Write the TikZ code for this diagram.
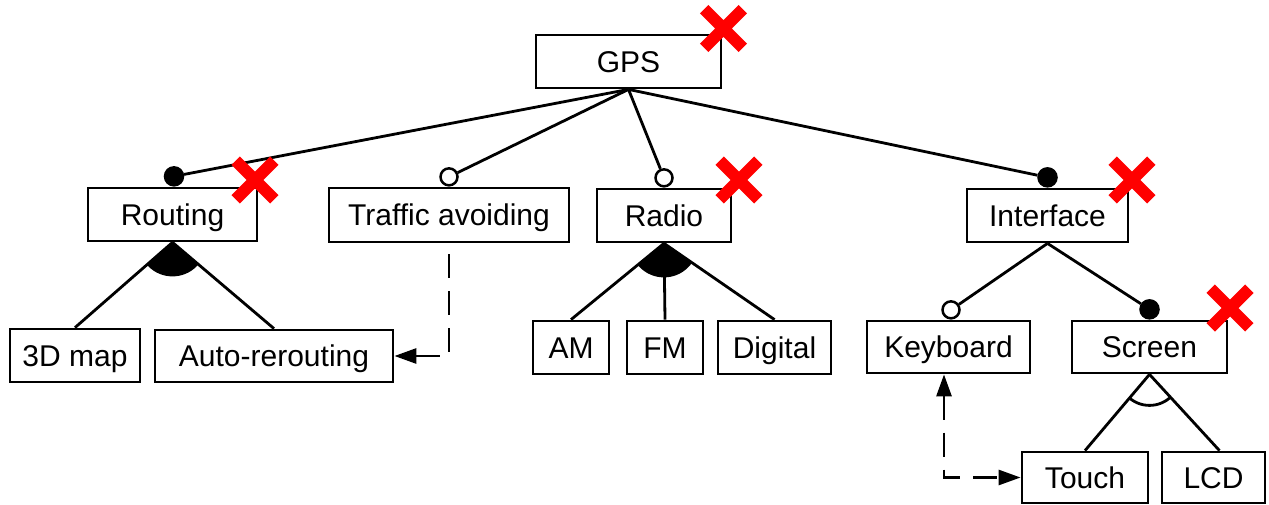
\documentclass[tikz,border=0pt]{standalone}
\usepackage{fontspec}
\setmainfont{Liberation Sans}
\usetikzlibrary{arrows.meta,calc}
\tikzset{
  box/.style={draw, line width=2.8pt, inner sep=0pt, text height=21.5pt, text depth=0pt, font=\fontsize{30}{36}\selectfont},
  conn/.style={line width=2.8pt},
  fcirc/.style={circle, draw, fill=black, line width=2.5pt, minimum size=18pt, inner sep=0pt, anchor=south},
  ocirc/.style={circle, draw, fill=white, line width=2.5pt, minimum size=17pt, inner sep=0pt, anchor=south},
  dep/.style={line width=2.8pt, dash pattern=on 24pt off 13pt},
  tip/.tip={Triangle[length=22pt,width=15pt]},
  redx/.pic={\draw[red, line width=12pt] (-19.3,-19.3) -- (19.3,19.3) (-19.3,19.3) -- (19.3,-19.3);}
}
\begin{document}
\begin{tikzpicture}[x=1pt,y=-1pt]
\useasboundingbox (0,0) rectangle (1269,505);
% boxes
\node[box, minimum width=185pt, minimum height=53pt] (gps) at (628.5,61.5) {GPS};
\node[box, minimum width=169pt, minimum height=53pt] (routing) at (172.5,214.5) {Routing};
\node[box, minimum width=240pt, minimum height=54pt] (traffic) at (449,215) {Traffic avoiding};
\node[box, minimum width=134pt, minimum height=53pt] (radio) at (664,215.5) {Radio};
\node[box, minimum width=161pt, minimum height=53pt] (interface) at (1047.5,215.5) {Interface};
\node[box, minimum width=130pt, minimum height=53pt] (map) at (75,355.5) {3D map};
\node[box, minimum width=238pt, minimum height=52pt] (auto) at (274,356) {Auto-rerouting};
\node[box, minimum width=76pt, minimum height=53pt] (am) at (571,347.5) {AM};
\node[box, minimum width=76pt, minimum height=53pt] (fm) at (665,347.5) {FM};
\node[box, minimum width=113pt, minimum height=53pt] (digital) at (774.5,347.5) {Digital};
\node[box, minimum width=163pt, minimum height=52pt] (keyboard) at (948.5,347) {Keyboard};
\node[box, minimum width=155pt, minimum height=52pt] (screen) at (1149.5,347) {Screen};
\node[box, minimum width=126pt, minimum height=51pt] (touch) at (1085,477.5) {Touch};
\node[box, minimum width=103pt, minimum height=51pt] (lcd) at (1213.5,477.5) {LCD};
% circles
\node[fcirc] (rc) at ($(routing.north)+(1.5,0)$) {};
\node[ocirc] (tc) at (traffic.north) {};
\node[ocirc] (rdc) at (radio.north) {};
\node[fcirc] (ic) at (interface.north) {};
\node[ocirc] (kc) at ($(keyboard.north)+(2.5,0)$) {};
\node[fcirc] (sc) at (screen.north) {};
% connectors from GPS
\draw[conn] (gps.south) -- (rc);
\draw[conn] (gps.south) -- (tc);
\draw[conn] (gps.south) -- (rdc);
\draw[conn] (gps.south) -- (ic);
\draw[conn] (interface.south) -- (kc);
\draw[conn] (interface.south) -- (sc);
% routing and-group
\coordinate (lcdtop) at ($(lcd.north)+(6,0)$);
\begin{scope}
\clip (routing.south) -- (map.north) -- (auto.north) -- cycle;
\fill (routing.south) circle (34pt);
\end{scope}
\draw[conn] (routing.south) -- (map.north);
\draw[conn] (routing.south) -- (auto.north);
% radio group
\begin{scope}
\clip (radio.south) -- (am.north) -- (digital.north) -- cycle;
\fill (radio.south) circle (34pt);
\end{scope}
\draw[conn] (radio.south) -- (am.north);
\draw[conn] (radio.south) -- (fm.north);
\draw[conn] (radio.south) -- (digital.north);
% screen group
\begin{scope}
\clip (screen.south) -- (touch.north) -- (lcdtop) -- cycle;
\draw[line width=2.8pt] (screen.south) circle (31pt);
\end{scope}
\draw[conn] (screen.south) -- (touch.north);
\draw[conn] (screen.south) -- (lcdtop);
% dependencies
\coordinate (tstart) at ($(traffic.south)+(0,11)$);
\draw[dep, -tip] (tstart) |- (auto.east);
\coordinate (kstart) at ($(keyboard.south)+(-4.5,0)$);
\draw[dep, tip-tip] (kstart) |- (touch.west);
% red crosses
\pic at (723.5,28.5) {redx};
\pic at (255,180) {redx};
\pic at (739,180) {redx};
\pic at (1132,180) {redx};
\pic at (1230,308) {redx};
\end{tikzpicture}
\end{document}
